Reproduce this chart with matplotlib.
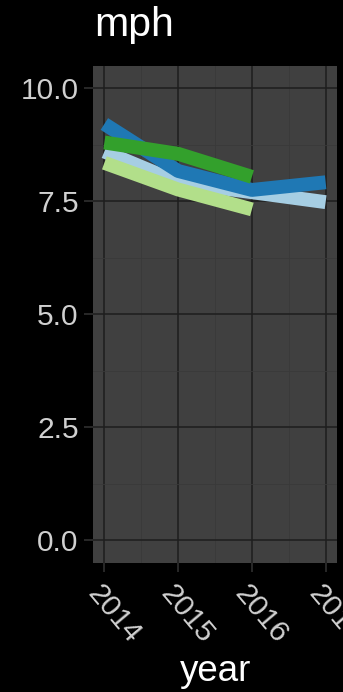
import matplotlib
matplotlib.use("Agg")
import matplotlib.pyplot as plt
import matplotlib.transforms as mtransforms
from matplotlib.ticker import MultipleLocator

plt.rcParams['font.family'] = ['Liberation Sans', 'DejaVu Sans']

# Average speed (mph) by year for four groups
years_full = [2014, 2015, 2016, 2017]
years_short = [2014, 2015, 2016]
light_blue = [8.60, 7.92, 7.70, 7.48]
dark_blue = [9.21, 8.17, 7.75, 7.92]
light_green = [8.35, 7.76, 7.32]
dark_green = [8.80, 8.55, 8.04]

series = [
    (years_full, light_blue, '#a6cee3'),
    (years_full, dark_blue, '#1f78b4'),
    (years_short, light_green, '#b2df8a'),
    (years_short, dark_green, '#33a02c'),
]

y_ticks = [0.0, 2.5, 5.0, 7.5, 10.0]
x_ticks = [2014, 2015, 2016, 2017]

W, H = 343, 692
fig = plt.figure(figsize=(W / 100, H / 100), dpi=100, facecolor='black')
ax = fig.add_axes([93.3 / W, 1 - 562.7 / H, (336.7 - 93.3) / W, (562.7 - 65.7) / H])
ax.set_facecolor('#404040')

for z, (xs, ys, col) in enumerate(series):
    ax.plot(xs, ys, color=col, lw=10, solid_capstyle='butt',
            solid_joinstyle='round', zorder=3 + z)

ax.set_xlim(2013.85, 2017.15)
ax.set_ylim(-0.5, 10.5)

ax.set_yticks(y_ticks)
ax.set_yticklabels([f"{v:.1f}" for v in y_ticks])
ax.set_xticks(x_ticks)
ax.set_xticklabels([str(v) for v in x_ticks], rotation=-50, ha='left',
                   va='center', rotation_mode='anchor')
ax.xaxis.set_minor_locator(MultipleLocator(0.5))
ax.yaxis.set_minor_locator(MultipleLocator(1.25))

ax.grid(which='major', color='#1e1e1e', lw=1.1, zorder=1)
ax.grid(which='minor', color='#393939', lw=0.6, zorder=0.5)
ax.set_axisbelow(True)

for s in ax.spines.values():
    s.set_visible(False)

ax.tick_params(which='major', length=6.5, width=1.1, color='#333333',
               labelcolor='#d0d0d0', labelsize=21.5, pad=4)
ax.tick_params(which='minor', length=0)
ax.tick_params(axis='x', pad=12)

# shift the rotated year labels slightly left
offset = mtransforms.ScaledTranslation(-12 / 100, 0, fig.dpi_scale_trans)
for lbl in ax.get_xticklabels():
    lbl.set_transform(lbl.get_transform() + offset)

fig.text(94 / W, 1 - 36 / H, 'mph', color='white', fontsize=29.5,
         ha='left', va='baseline')
fig.text(216 / W, 1 - 681 / H, 'year', color='white', fontsize=26.5,
         ha='center', va='baseline')

fig.savefig('out.png', dpi=100, facecolor='black')
